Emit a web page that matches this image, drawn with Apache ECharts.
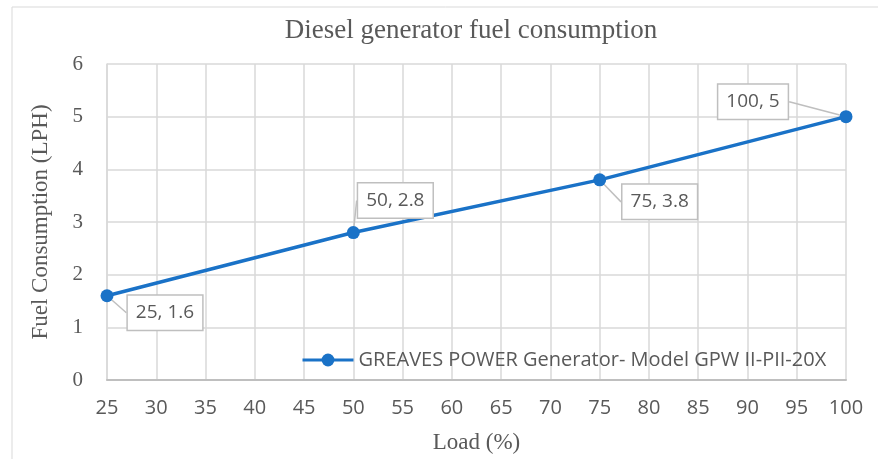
<!DOCTYPE html>
<html>
<head>
<meta charset="utf-8">
<script src="https://cdn.jsdelivr.net/npm/echarts@6/dist/echarts.min.js"></script>
<style>
  html, body { margin: 0; padding: 0; background: #fff; }
  #chart { width: 878px; height: 459px; }
</style>
</head>
<body>
<div id="chart"></div>
<script>
const loads = [25, 50, 75, 100];
const fuel = [1.6, 2.8, 3.8, 5];
const seriesName = 'GREAVES POWER Generator- Model GPW II-PII-20X';
const xTicks = [25, 30, 35, 40, 45, 50, 55, 60, 65, 70, 75, 80, 85, 90, 95, 100];
const yTicks = [0, 1, 2, 3, 4, 5, 6];
// callout box offsets (px) from each point
const labelOffsets = [[58, 17], [42, -32], [60, 22], [-93, -15]];

const chart = echarts.init(document.getElementById('chart'));
const grey = '#595959';

const option = {
  animation: false,
  backgroundColor: '#fff',
  graphic: [{
    type: 'rect',
    shape: { x: 12, y: 7, width: 900, height: 500 },
    style: { fill: 'none', stroke: '#d9d9d9', lineWidth: 1 },
    silent: true
  }],
  title: {
    text: 'Diesel generator fuel consumption',
    left: 466,
    textAlign: 'center',
    top: 12,
    textStyle: { fontFamily: 'Liberation Serif', fontWeight: 'normal', fontSize: 27, color: grey }
  },
  legend: {
    left: 296,
    top: 345,
    itemWidth: 51,
    itemHeight: 16,
    data: [seriesName],
    lineStyle: { width: 3 },
    textStyle: { fontFamily: 'Open Sans', fontSize: 20, color: grey }
  },
  grid: { left: 107, right: 32, top: 64, bottom: 79, outerBoundsMode: 'none' },
  xAxis: {
    type: 'value',
    min: xTicks[0],
    max: xTicks[xTicks.length - 1],
    interval: 5,
    name: 'Load (%)',
    nameLocation: 'middle',
    nameGap: 51,
    nameTextStyle: { fontFamily: 'Liberation Serif', fontSize: 23, color: grey },
    axisLine: { lineStyle: { color: '#bfbfbf', width: 2 } },
    axisTick: { show: false },
    axisLabel: { margin: 18, fontFamily: 'Open Sans', fontSize: 20, color: grey },
    splitLine: { show: true, lineStyle: { color: '#d9d9d9', width: 1.5 } }
  },
  yAxis: {
    type: 'value',
    min: yTicks[0],
    max: yTicks[yTicks.length - 1],
    interval: 1,
    name: 'Fuel Consumption (LPH)',
    nameLocation: 'middle',
    nameGap: 55,
    nameTextStyle: { fontFamily: 'Liberation Serif', fontSize: 23, color: grey },
    axisLine: { show: true, lineStyle: { color: '#d9d9d9', width: 1.5 } },
    axisTick: { show: false },
    axisLabel: { margin: 24, fontFamily: 'Liberation Serif', fontSize: 21, color: grey },
    splitLine: { show: true, lineStyle: { color: '#d9d9d9', width: 1.5 } }
  },
  series: [{
    name: seriesName,
    type: 'line',
    data: loads.map((x, i) => [x, fuel[i]]),
    symbol: 'circle',
    symbolSize: 13,
    lineStyle: { color: '#1a72c7', width: 3.5 },
    itemStyle: { color: '#1a72c7' },
    label: {
      show: true,
      position: 'inside',
      formatter: p => p.value[0] + ', ' + p.value[1],
      fontFamily: 'Open Sans',
      fontSize: 19,
      color: grey,
      backgroundColor: '#fff',
      borderColor: '#bfbfbf',
      borderWidth: 1.5,
      padding: [8, 8, 7, 8]
    },
    labelLine: { show: true, lineStyle: { color: '#bfbfbf', width: 1.5 } },
    labelLayout: p => ({ dx: labelOffsets[p.dataIndex][0], dy: labelOffsets[p.dataIndex][1] }),
    z: 3
  }]
};

chart.setOption(option);
</script>
</body>
</html>
